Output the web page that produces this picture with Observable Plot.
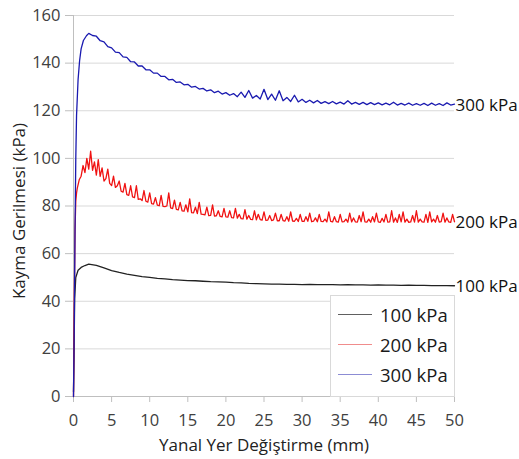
<!DOCTYPE html>
<html>
<head>
<meta charset="utf-8">
<script src="https://cdn.jsdelivr.net/npm/d3@7"></script>
<script src="https://cdn.jsdelivr.net/npm/@observablehq/plot@0.6"></script>
<style>
  html, body { margin: 0; padding: 0; background: #fff; }
  #wrap { position: relative; width: 519px; height: 459px; font-family: "Open Sans", sans-serif; }
  #legend { position: absolute; left: 330px; top: 295px; width: 125px; height: 102px; background: #fff;
            border: 1px solid #d9d9d9; box-sizing: border-box; }
  .item { position: absolute; left: 0; height: 20px; display: flex; align-items: center; font-size: 18.5px; color: #1a1a1a; white-space: nowrap; }
  .item span.ln { display: inline-block; width: 34px; height: 1px; margin-left: 7px; margin-right: 8px; }
</style>
</head>
<body>
<div id="wrap"></div>
<script>
// ---- data ----
const seriesNames = ["100 kPa", "200 kPa", "300 kPa"];
const seriesColors = ["#222222", "#f01212", "#1a1ab0"];
const legendColors = ["#606060", "#f08c8c", "#8c8cd4"];
const xTicks = [0, 5, 10, 15, 20, 25, 30, 35, 40, 45, 50];
const yTicks = [0, 20, 40, 60, 80, 100, 120, 140, 160];

// 100 kPa: initial rise (x, y), then values every 1 mm from x = 2
const blackRise = [[0, 2], [0.08, 20], [0.15, 41], [0.3, 50], [0.6, 53], [1.0, 54.2], [1.5, 55]];
const blackStart = 2, blackStep = 1;
const blackY = [55.6, 55.1, 54, 52.9, 52.1, 51.4, 50.9, 50.3, 50, 49.6, 49.4, 49.1, 48.9, 48.7, 48.6, 48.4,
  48.2, 48.1, 48, 47.8, 47.7, 47.5, 47.4, 47.3, 47.2, 47.2, 47.1, 47.1, 47, 47.1, 47, 47, 47, 46.9, 47,
  46.9, 46.9, 46.8, 46.9, 46.8, 46.8, 46.7, 46.8, 46.7, 46.7, 46.6, 46.6, 46.6, 46.5];

// 200 kPa: initial rise, then values every 0.25 mm from x = 0.5
const redRise = [[0, 0], [0.1, 40], [0.2, 70], [0.3, 82], [0.4, 85.5]];
const redStart = 0.5, redStep = 0.25;
const redY = [
  87.5, 91,
  92.5, 97, 94, 100,
  95.5, 103, 95, 98.5,
  93, 99.5, 92.4, 96,
  90.5, 91.5, 95.5, 89.5,
  88.6, 92.5, 87.8, 88.5,
  90.5, 86.2, 85.8, 89.5,
  84.8, 84.5, 88.5, 83.8,
  83.5, 88.5, 82.8, 83,
  82.3, 86.5, 82, 81.6,
  85.5, 81, 80.8, 83.5,
  80.4, 80.1, 84.5, 79.8,
  79.7, 80, 85.5, 79.2,
  78.9, 82.5, 78.6, 78.4,
  81.5, 78, 77.8, 80.5,
  77.5, 83, 77.2, 77.1,
  79.5, 76.8, 81.5, 76.6,
  76.5, 76.3, 79.5, 76,
  76.1, 80.5, 75.8, 75.9,
  78, 75.6, 75.4, 79,
  75.4, 75.3, 78, 75.1,
  75, 79, 74.9, 76.5,
  74.7, 74.6, 78.5, 74.5,
  76, 74.4, 74.3, 78,
  74.2, 76.5, 74.3, 74.1,
  77.5, 74, 74.1, 76,
  73.9, 74.2, 77, 73.8,
  73.8, 76.5, 73.9, 73.7,
  75.5, 73.6, 77.5, 73.7,
  73.6, 74.8, 73.5, 76.5,
  73.6, 73.5, 75.5, 73.6,
  77, 73.4, 73.6, 75,
  73.4, 76.5, 73.5, 73.4,
  74.5, 73.3, 77.5, 73.5,
  73.3, 75.5, 73.4, 73.2,
  76.5, 73.3, 73.4, 74.5,
  73.2, 77, 73.3, 75,
  73.3, 73.2, 76, 73.4,
  77.5, 73.3, 73.2, 74.5,
  73.2, 75.5, 73.3, 77,
  73.3, 73.1, 74.8, 73.3,
  76.5, 73.2, 73.3, 78,
  73.2, 75, 73.1, 76.5,
  73.3, 77.5, 73.2, 74.5,
  73.1, 73.3, 76, 73.2,
  78, 73.2, 74.5, 73.3,
  73.2, 76.5, 73.1, 77.5,
  73.3, 74.5, 73.2, 76,
  73.2, 73.4, 77, 73.2,
  75, 73.3, 73.1, 76.5,
  73.4];

// 300 kPa: initial rise, then values every 0.5 mm from x = 2
const blueRise = [[0, 0], [0.1, 30], [0.2, 70], [0.3, 100], [0.4, 118], [0.6, 133], [0.8, 141], [1.0, 146], [1.3, 149.5], [1.7, 151.5]];
const blueStart = 2, blueStep = 0.5;
const blueY = [152.5, 151.6, 151.3, 149.4, 148.9, 146.9, 146.4, 144.6, 144.4, 142.6, 142.4, 140.6, 140.5,
  138.8, 138.8, 137.2, 137.2, 135.8, 135.8, 134.4, 134.4, 133, 133.2, 131.9, 132.1, 130.9, 131.1, 129.9,
  130.2, 129.1, 129.4, 128.3, 128.8, 127.6, 128.2, 127, 127.6, 126.5, 127.2, 125.9, 127.8, 125.6, 128.5,
  125.3, 126.4, 124.9, 129, 124.7, 127, 124.4, 128.4, 124.2, 125.6, 123.9, 126.5, 123.7, 124.8, 123.5,
  124.4, 123.3, 124.3, 123.1, 123.8, 123, 123.9, 122.9, 123.6, 122.8, 124.2, 122.8, 123.5, 122.7, 123.5,
  122.6, 123.4, 122.6, 123.3, 122.5, 123.2, 122.5, 123.6, 122.4, 123.1, 122.4, 123.2, 122.3, 123, 122.3,
  123.1, 122.2, 123.2, 122.3, 123, 122.2, 123.3, 122.4, 122.8];

// ---- build table ----
function build(name, rise, start, step, ys) {
  const pts = rise.map(([x, y]) => ({name, x, y}));
  ys.forEach((y, i) => pts.push({name, x: +(start + i * step).toFixed(3), y}));
  return pts;
}
const series = [
  build(seriesNames[0], blackRise, blackStart, blackStep, blackY),
  build(seriesNames[1], redRise, redStart, redStep, redY),
  build(seriesNames[2], blueRise, blueStart, blueStep, blueY)
];
const data = series.flat();
const ends = series.map(s => s[s.length - 1]);

const chart = Plot.plot({
  width: 519,
  height: 459,
  marginLeft: 73,
  marginRight: 65,
  marginTop: 15,
  marginBottom: 63,
  style: {fontFamily: "Open Sans, sans-serif", fontSize: "16.5px", color: "#404040", background: "#fff", overflow: "visible"},
  x: {domain: [0, 50]},
  y: {domain: [0, 160]},
  color: {domain: seriesNames, range: seriesColors},
  marks: [
    Plot.ruleY(yTicks.filter(d => d > 0), {stroke: "#d9d9d9", strokeWidth: 1}),
    Plot.ruleY([0], {stroke: "#bfbfbf"}),
    Plot.ruleX([0], {stroke: "#bfbfbf"}),
    Plot.axisY({ticks: yTicks, tickSize: 8, tickPadding: 5, stroke: "#bfbfbf", fill: "#404040", label: null, fontSize: 16.5}),
    Plot.axisX({ticks: xTicks, tickSize: 6, tickPadding: 12, stroke: "#bfbfbf", fill: "#404040", label: null, fontSize: 16.5}),
    Plot.line(data, {x: "x", y: "y", z: "name", stroke: "name", strokeWidth: 1.3}),
    Plot.text(ends, {x: "x", y: "y", text: "name", textAnchor: "start", dx: 1, dy: 1, fill: "#111", fontSize: 17}),
    Plot.text(["Kayma Gerilmesi (kPa)"], {frameAnchor: "left", textAnchor: "middle", rotate: -90, dx: -54, dy: 5, fill: "#222", fontSize: 17}),
    Plot.text(["Yanal Yer Değiştirme (mm)"], {frameAnchor: "bottom", textAnchor: "middle", lineAnchor: "middle", dy: 49, fill: "#222", fontSize: 17})
  ]
});

const wrap = document.getElementById("wrap");
wrap.appendChild(chart);
const legend = document.createElement("div");
legend.id = "legend";
seriesNames.forEach((n, i) => {
  const it = document.createElement("div");
  it.className = "item";
  it.style.top = (8 + i * 30) + "px";
  const ln = document.createElement("span");
  ln.className = "ln";
  ln.style.backgroundColor = legendColors[i];
  it.appendChild(ln);
  it.appendChild(document.createTextNode(n));
  legend.appendChild(it);
});
wrap.appendChild(legend);
</script>
</body>
</html>
